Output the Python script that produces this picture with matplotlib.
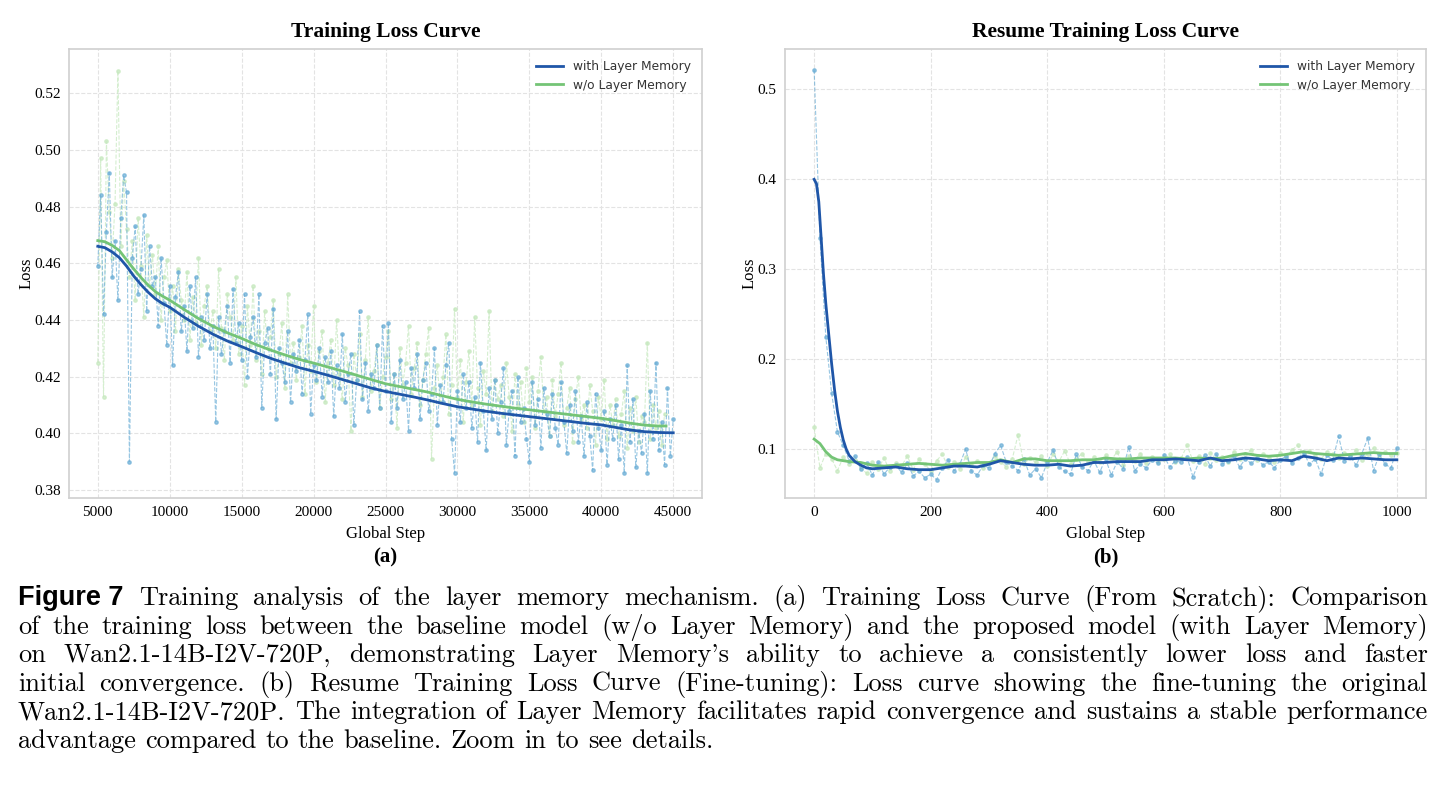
import numpy as np
import matplotlib
matplotlib.use('Agg')
import matplotlib.pyplot as plt

# ---------------- data ----------------
# (a) training from scratch, raw loss every 200 steps
steps_a_with = np.arange(5000, 45001, 200)
loss_a_with = [
    0.459, 0.484, 0.442, 0.471, 0.492, 0.455, 0.468, 0.447, 0.476, 0.491,
    0.485, 0.390, 0.462, 0.473, 0.449, 0.458, 0.477, 0.443, 0.466, 0.452,
    0.455, 0.438, 0.462, 0.446, 0.431, 0.452, 0.424, 0.448, 0.457, 0.436,
    0.445, 0.429, 0.452, 0.437, 0.455, 0.427, 0.441, 0.433, 0.449, 0.430,
    0.438, 0.404, 0.441, 0.428, 0.436, 0.445, 0.425, 0.451, 0.432, 0.439,
    0.426, 0.449, 0.420, 0.434, 0.441, 0.427, 0.449, 0.409, 0.432, 0.437,
    0.421, 0.444, 0.405, 0.430, 0.425, 0.418, 0.436, 0.411, 0.428, 0.422,
    0.433, 0.414, 0.426, 0.442, 0.407, 0.424, 0.419, 0.430, 0.413, 0.427,
    0.418, 0.429, 0.406, 0.424, 0.416, 0.435, 0.411, 0.421, 0.428, 0.403,
    0.419, 0.443, 0.412, 0.425, 0.408, 0.421, 0.416, 0.431, 0.409, 0.438,
    0.415, 0.439, 0.404, 0.421, 0.409, 0.426, 0.412, 0.418, 0.401, 0.423,
    0.416, 0.428, 0.405, 0.419, 0.425, 0.408, 0.414, 0.430, 0.403, 0.417,
    0.411, 0.424, 0.432, 0.398, 0.386, 0.415, 0.404, 0.421, 0.409, 0.418,
    0.402, 0.413, 0.397, 0.425, 0.408, 0.394, 0.416, 0.405, 0.419, 0.400,
    0.411, 0.423, 0.396, 0.408, 0.415, 0.392, 0.420, 0.404, 0.409, 0.398,
    0.390, 0.418, 0.403, 0.412, 0.395, 0.416, 0.407, 0.399, 0.414, 0.402,
    0.396, 0.418, 0.404, 0.393, 0.410, 0.401, 0.415, 0.397, 0.406, 0.392,
    0.411, 0.399, 0.387, 0.414, 0.402, 0.394, 0.408, 0.389, 0.405, 0.398,
    0.410, 0.391, 0.403, 0.386, 0.424, 0.397, 0.412, 0.388, 0.401, 0.393,
    0.407, 0.386, 0.415, 0.398, 0.425, 0.394, 0.404, 0.389, 0.416, 0.392,
    0.405,
]
steps_a_wo = np.arange(5000, 44401, 200)
loss_a_wo = [
    0.425, 0.497, 0.413, 0.503, 0.478, 0.462, 0.481, 0.528, 0.466, 0.489,
    0.472, 0.455, 0.468, 0.447, 0.476, 0.459, 0.441, 0.470, 0.452, 0.463,
    0.449, 0.466, 0.440, 0.455, 0.461, 0.443, 0.452, 0.436, 0.458, 0.447,
    0.440, 0.457, 0.433, 0.448, 0.439, 0.462, 0.431, 0.445, 0.452, 0.436,
    0.443, 0.430, 0.458, 0.437, 0.426, 0.449, 0.441, 0.433, 0.455, 0.428,
    0.438, 0.417, 0.445, 0.431, 0.452, 0.426, 0.436, 0.421, 0.443, 0.430,
    0.434, 0.447, 0.420, 0.428, 0.439, 0.416, 0.449, 0.425, 0.432, 0.419,
    0.427, 0.438, 0.414, 0.431, 0.422, 0.445, 0.418, 0.429, 0.436, 0.411,
    0.425, 0.433, 0.417, 0.440, 0.421, 0.412, 0.430, 0.424, 0.401, 0.428,
    0.419, 0.435, 0.413, 0.426, 0.441, 0.415, 0.422, 0.431, 0.409, 0.420,
    0.427, 0.436, 0.412, 0.421, 0.402, 0.430, 0.417, 0.425, 0.438, 0.414,
    0.423, 0.432, 0.410, 0.419, 0.428, 0.437, 0.391, 0.416, 0.424, 0.411,
    0.420, 0.435, 0.407, 0.417, 0.444, 0.413, 0.426, 0.404, 0.418, 0.429,
    0.410, 0.441, 0.416, 0.403, 0.422, 0.414, 0.443, 0.408, 0.419, 0.412,
    0.417, 0.406, 0.425, 0.413, 0.401, 0.421, 0.410, 0.418, 0.404, 0.423,
    0.411, 0.420, 0.402, 0.415, 0.427, 0.408, 0.413, 0.399, 0.419, 0.406,
    0.414, 0.425, 0.403, 0.409, 0.416, 0.397, 0.412, 0.420, 0.405, 0.410,
    0.402, 0.417, 0.408, 0.396, 0.413, 0.405, 0.419, 0.398, 0.410, 0.403,
    0.412, 0.399, 0.407, 0.415, 0.395, 0.409, 0.401, 0.413, 0.397, 0.406,
    0.404, 0.432, 0.398, 0.410, 0.402, 0.408, 0.396, 0.407,
]
# (a) smoothed curves
smooth_a_with_x = [5000, 5500, 6000, 6500, 7000, 7500, 8000, 8500, 9000, 9500,
                   10000, 11000, 12000, 13000, 14000, 15000, 16000, 17000, 18000,
                   19000, 20000, 21000, 22000, 23000, 24000, 25000, 26000, 27000,
                   28000, 29000, 30000, 31000, 32000, 33000, 34000, 35000, 36000,
                   37000, 38000, 39000, 40000, 41000, 42000, 43000, 44000, 45000]
smooth_a_with_y = [0.4660, 0.4655, 0.4640, 0.4620, 0.4590, 0.4555, 0.4525, 0.4498,
                   0.4475, 0.4458, 0.4445, 0.4410, 0.4378, 0.4350, 0.4326, 0.4306,
                   0.4285, 0.4265, 0.4248, 0.4232, 0.4219, 0.4205, 0.4190, 0.4175,
                   0.4160, 0.4148, 0.4138, 0.4128, 0.4117, 0.4105, 0.4094, 0.4086,
                   0.4078, 0.4071, 0.4065, 0.4059, 0.4053, 0.4047, 0.4041, 0.4035,
                   0.4030, 0.4021, 0.4012, 0.4006, 0.4003, 0.4002]
smooth_a_wo_x = smooth_a_with_x[:-1] + [44500]
smooth_a_wo_y = [0.4680, 0.4676, 0.4663, 0.4645, 0.4612, 0.4580, 0.4550, 0.4523,
                 0.4500, 0.4484, 0.4470, 0.4437, 0.4405, 0.4378, 0.4355, 0.4335,
                 0.4313, 0.4294, 0.4277, 0.4261, 0.4248, 0.4234, 0.4220, 0.4205,
                 0.4190, 0.4175, 0.4165, 0.4155, 0.4145, 0.4132, 0.4120, 0.4111,
                 0.4103, 0.4096, 0.4089, 0.4083, 0.4077, 0.4071, 0.4065, 0.4059,
                 0.4053, 0.4045, 0.4036, 0.4029, 0.4026, 0.4026]

# (b) resume training, raw loss every 10 steps
steps_b = np.arange(0, 1001, 10)
loss_b_with = [
    0.522, 0.335, 0.225, 0.162, 0.119, 0.104, 0.087, 0.092, 0.078, 0.084,
    0.071, 0.085, 0.072, 0.080, 0.082, 0.074, 0.084, 0.070, 0.075, 0.068,
    0.072, 0.066, 0.079, 0.088, 0.076, 0.083, 0.100, 0.075, 0.071, 0.082,
    0.079, 0.095, 0.104, 0.085, 0.081, 0.076, 0.089, 0.071, 0.078, 0.068,
    0.085, 0.099, 0.080, 0.075, 0.072, 0.094, 0.080, 0.076, 0.087, 0.074,
    0.089, 0.071, 0.086, 0.078, 0.102, 0.076, 0.083, 0.079, 0.088, 0.084,
    0.093, 0.080, 0.087, 0.085, 0.091, 0.069, 0.085, 0.093, 0.081, 0.094,
    0.083, 0.087, 0.092, 0.080, 0.089, 0.084, 0.090, 0.082, 0.086, 0.079,
    0.088, 0.092, 0.084, 0.090, 0.096, 0.083, 0.089, 0.072, 0.093, 0.088,
    0.114, 0.087, 0.092, 0.082, 0.095, 0.112, 0.076, 0.094, 0.083, 0.079,
    0.101,
]
loss_b_wo = [
    0.124, 0.079, 0.095, 0.089, 0.076, 0.091, 0.083, 0.088, 0.079, 0.073,
    0.086, 0.078, 0.090, 0.075, 0.084, 0.081, 0.092, 0.077, 0.089, 0.083,
    0.076, 0.087, 0.094, 0.080, 0.085, 0.078, 0.091, 0.082, 0.087, 0.079,
    0.084, 0.092, 0.086, 0.080, 0.089, 0.116, 0.083, 0.090, 0.085, 0.092,
    0.081, 0.094, 0.086, 0.098, 0.083, 0.089, 0.095, 0.084, 0.091, 0.086,
    0.093, 0.088, 0.097, 0.082, 0.092, 0.087, 0.095, 0.084, 0.091, 0.086,
    0.089, 0.094, 0.085, 0.090, 0.104, 0.087, 0.092, 0.083, 0.096, 0.088,
    0.091, 0.085, 0.097, 0.089, 0.094, 0.099, 0.088, 0.095, 0.090, 0.086,
    0.096, 0.091, 0.099, 0.104, 0.093, 0.098, 0.092, 0.089, 0.097, 0.094,
    0.090, 0.096, 0.093, 0.099, 0.088, 0.095, 0.101, 0.091, 0.097, 0.093,
    0.096,
]
# (b) smoothed curves
smooth_b_with_x = [0, 4, 8, 12, 16, 20, 25, 30, 35, 40, 45, 50, 55, 60, 70, 80, 90,
                   100, 120, 140, 160, 180, 200, 220, 240, 260, 280, 300, 320, 340,
                   360, 380, 400, 420, 440, 460, 480, 500, 520, 540, 560, 580, 600,
                   620, 640, 660, 680, 700, 720, 740, 760, 780, 800, 820, 840, 860,
                   880, 900, 920, 940, 960, 980, 1000]
smooth_b_with_y = [0.400, 0.395, 0.375, 0.335, 0.295, 0.262, 0.228, 0.195, 0.166,
                   0.142, 0.124, 0.110, 0.100, 0.093, 0.086, 0.082, 0.079, 0.078,
                   0.079, 0.080, 0.078, 0.077, 0.077, 0.079, 0.081, 0.081, 0.080,
                   0.083, 0.087, 0.085, 0.083, 0.082, 0.082, 0.083, 0.081, 0.082,
                   0.085, 0.085, 0.086, 0.086, 0.086, 0.088, 0.088, 0.089, 0.088,
                   0.087, 0.090, 0.087, 0.088, 0.090, 0.089, 0.087, 0.088, 0.087,
                   0.092, 0.090, 0.087, 0.090, 0.089, 0.090, 0.089, 0.088, 0.088]
smooth_b_wo_x = [0, 10, 20, 30, 40, 60, 80, 100, 120, 140, 160, 180, 200, 220, 240,
                 260, 280, 300, 320, 340, 360, 380, 400, 420, 440, 460, 480, 500,
                 520, 540, 560, 580, 600, 620, 640, 660, 680, 700, 720, 740, 760,
                 780, 800, 820, 840, 860, 880, 900, 920, 940, 960, 980, 1000]
smooth_b_wo_y = [0.111, 0.106, 0.097, 0.091, 0.088, 0.086, 0.085, 0.082, 0.081,
                 0.082, 0.083, 0.084, 0.083, 0.082, 0.083, 0.084, 0.085, 0.085,
                 0.088, 0.085, 0.089, 0.089, 0.087, 0.087, 0.087, 0.088, 0.088,
                 0.090, 0.089, 0.089, 0.090, 0.090, 0.090, 0.090, 0.089, 0.090,
                 0.089, 0.090, 0.093, 0.095, 0.093, 0.092, 0.093, 0.095, 0.097,
                 0.095, 0.094, 0.093, 0.094, 0.095, 0.096, 0.095, 0.095]

labels = ['with Layer Memory', 'w/o Layer Memory']
caption_lines = [
    "Training analysis of the layer memory mechanism. (a) Training Loss Curve (From Scratch): Comparison",
    "of the training loss between the baseline model (w/o Layer Memory) and the proposed model (with Layer Memory)",
    "on Wan2.1-14B-I2V-720P, demonstrating Layer Memory's ability to achieve a consistently lower loss and faster",
    "initial convergence. (b) Resume Training Loss Curve (Fine-tuning): Loss curve showing the fine-tuning the original",
    "Wan2.1-14B-I2V-720P. The integration of Layer Memory facilitates rapid convergence and sustains a stable performance",
    "advantage compared to the baseline. Zoom in to see details.",
]

# ---------------- style ----------------
raw_blue = '#6baed6'
raw_green = '#c7e9c0'
line_blue = '#1f56a8'
line_green = '#74c476'
serif = ['Liberation Serif', 'DejaVu Serif']

W, H = 1447, 792
fig = plt.figure(figsize=(W / 100, H / 100), dpi=100)


def px_axes(l, t, r, b):
    return fig.add_axes([l / W, 1 - b / H, (r - l) / W, (b - t) / H])


def style(ax, title):
    for s in ax.spines.values():
        s.set_color('#d0d0d0')
        s.set_linewidth(1.2)
    ax.grid(True, linestyle='--', color='#e3e3e3', linewidth=0.8)
    ax.set_axisbelow(True)
    ax.tick_params(length=0, pad=6, labelsize=11)
    for lab in ax.get_xticklabels() + ax.get_yticklabels():
        lab.set_family(serif)
    ax.set_title(title, family=serif, fontsize=15.5, fontweight='bold', pad=9)
    ax.set_xlabel('Global Step', family=serif, fontsize=12, labelpad=5)
    ax.set_ylabel('Loss', family=serif, fontsize=12, labelpad=0)
    leg = ax.legend(loc='upper right', frameon=False, fontsize=8.8,
                    handlelength=2.2, borderaxespad=0.5, labelspacing=0.45)
    for t in leg.get_texts():
        t.set_color('#333333')


def draw(ax, sx1, y1, sx2, y2, mx1, my1, mx2, my2):
    ax.plot(sx2, y2, '--', color=raw_green, lw=0.8, marker='o', ms=2.4, alpha=0.75, zorder=2)
    ax.plot(sx1, y1, '--', color=raw_blue, lw=0.8, marker='o', ms=2.4, alpha=0.7, zorder=3)
    ax.plot(mx1, my1, color=line_blue, lw=2, label=labels[0], zorder=5)
    ax.plot(mx2, my2, color=line_green, lw=2, label=labels[1], zorder=4)


ax1 = px_axes(69, 49, 702, 498)
draw(ax1, steps_a_with, loss_a_with, steps_a_wo, loss_a_wo,
     smooth_a_with_x, smooth_a_with_y, smooth_a_wo_x, smooth_a_wo_y)
ax1.set_xlim(3000, 47000)
ax1.set_ylim(0.3772, 0.5356)
ax1.set_xticks(np.arange(5000, 45001, 5000))
ax1.set_yticks([0.38, 0.40, 0.42, 0.44, 0.46, 0.48, 0.50, 0.52])
ax1.set_yticklabels(['%.2f' % v for v in ax1.get_yticks()])
style(ax1, 'Training Loss Curve')

ax2 = px_axes(785, 49, 1426, 498)
draw(ax2, steps_b, loss_b_with, steps_b, loss_b_wo,
     smooth_b_with_x, smooth_b_with_y, smooth_b_wo_x, smooth_b_wo_y)
ax2.set_xlim(-50, 1050)
ax2.set_ylim(0.0455, 0.545)
ax2.set_xticks([0, 200, 400, 600, 800, 1000])
ax2.set_yticks([0.1, 0.2, 0.3, 0.4, 0.5])
ax2.set_yticklabels(['0.1', '0.2', '0.3', '0.4', '0.5'])
style(ax2, 'Resume Training Loss Curve')

fig.text(385.5 / W, 1 - 557 / H, '(a)', family=serif, fontweight='bold',
         fontsize=15, ha='center', va='center')
fig.text(1105.5 / W, 1 - 557 / H, '(b)', family=serif, fontweight='bold',
         fontsize=15, ha='center', va='center')

# ---------------- caption, justified word by word ----------------
renderer = fig.canvas.get_renderer()
cap_font = dict(family=['cmr10', 'DejaVu Serif'], fontsize=19)
x_left, x_right = 18, 1428
base0, dy = 605, 28.6

for i, line in enumerate(caption_lines):
    y = 1 - (base0 + i * dy) / H
    start = x_left
    if i == 0:
        head = fig.text(x_left / W, y, 'Figure 7', family=['Liberation Sans', 'DejaVu Sans'],
                        fontweight='bold', fontsize=19.5, va='baseline')
        start = x_left + head.get_window_extent(renderer).width + 16
    words = line.split(' ')
    texts = [fig.text(0, y, w, va='baseline', **cap_font) for w in words]
    widths = [t.get_window_extent(renderer).width for t in texts]
    if i < len(caption_lines) - 1:
        gap = (x_right - start - sum(widths)) / (len(words) - 1)
    else:
        gap = 9
    x = start
    for t, w in zip(texts, widths):
        t.set_x(x / W)
        x += w + gap

fig.savefig('out.png', dpi=100)
